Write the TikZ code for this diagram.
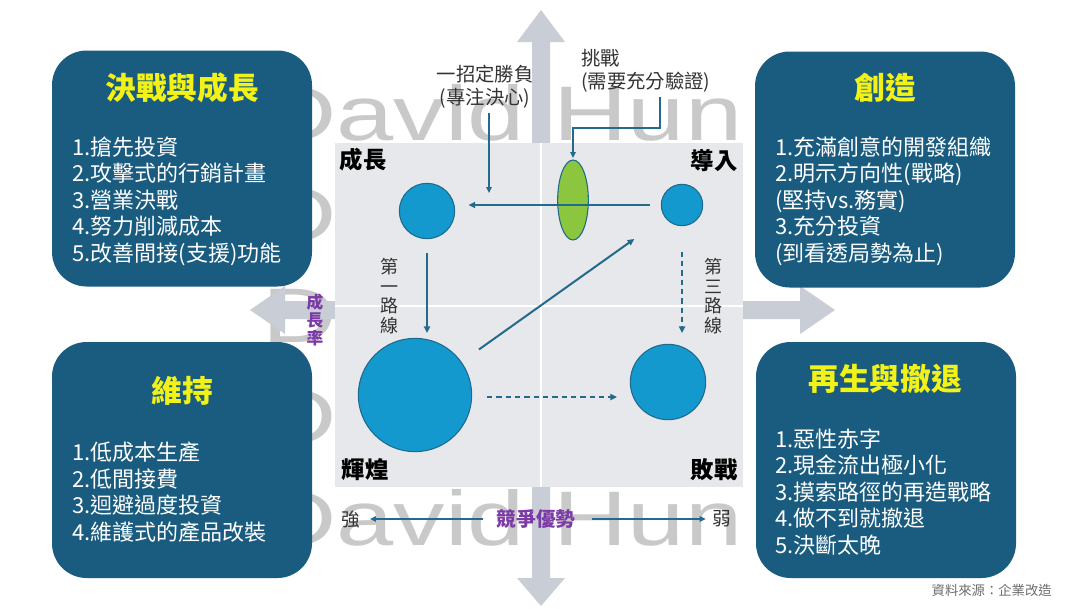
\documentclass[tikz,border=0pt]{standalone}
\usepackage{fontspec}
\setmainfont{Noto Sans CJK TC}
\newfontfamily\wmfont{Liberation Sans}
\usetikzlibrary{arrows.meta,shapes.geometric}
\definecolor{boxblue}{HTML}{195C7F}
\definecolor{titleyellow}{HTML}{F2F218}
\definecolor{panelgray}{HTML}{E7E8EB}
\definecolor{bigarrow}{HTML}{C9CDD5}
\definecolor{wmgray}{HTML}{C9C9C9}
\definecolor{circfill}{HTML}{1499CF}
\definecolor{circline}{HTML}{1E6A8C}
\definecolor{arrowcol}{HTML}{236A8C}
\definecolor{greenfill}{HTML}{8CC63E}
\definecolor{labgray}{HTML}{333333}
\definecolor{purp}{HTML}{7B3AA6}
\tikzset{
  box/.style={fill=boxblue, rounded corners=26pt, minimum width=195pt, minimum height=177pt, inner sep=0},
  boxtitle/.style={text=titleyellow, font=\fontsize{23}{26}\selectfont\bfseries, inner sep=0},
  items/.style={text=white, font=\fontsize{16.5}{19.9}\selectfont, align=left, anchor=west, inner sep=0},
  quad/.style={text=black, font=\fontsize{17.5}{20}\selectfont\bfseries, inner sep=0},
  bub/.style={circle, fill=circfill, draw=circline, line width=0.8pt, inner sep=0},
  arr/.style={draw=arrowcol, line width=1.5pt, -{Triangle[length=5pt,width=4.5pt]}},
  thinarr/.style={draw=arrowcol, line width=1.1pt, -{Triangle[length=4.5pt,width=4pt]}},
  dsh/.style={dash pattern=on 4pt off 3pt},
  lab/.style={text=labgray, font=\fontsize{14.5}{17.5}\selectfont, inner sep=0},
  vlab/.style={text=labgray, font=\fontsize{13.5}{14.6}\selectfont, align=center, inner sep=0},
  wm/.style={text=wmgray, font=\fontsize{58}{60}\wmfont, anchor=base west, inner sep=0},
}
\begin{document}
\begin{tikzpicture}[x=0.75pt,y=-0.75pt]
\useasboundingbox (0,0) rectangle (1080,608);
\fill[white] (0,0) rectangle (1080,608);
% watermark rows
\foreach \yy in {140,241,342,443,545} {
  \node[wm] at (262,\yy) {\scalebox{1.33}[1]{David Hun}};
}
% big gray cross arrows
\fill[bigarrow] (532,42) -- (517,42) -- (541,10) -- (565,42) -- (550,42) -- (550,578) -- (565,578) -- (541,606) -- (517,578) -- (532,578) -- cycle;
\fill[bigarrow] (285,301) -- (285,286) -- (250,310) -- (285,334) -- (285,319) -- (800,319) -- (800,334) -- (835,310) -- (800,286) -- (800,301) -- cycle;
% central panel
\fill[panelgray] (335,143) rectangle (743,487);
\draw[white, line width=1.2pt] (541,143) -- (541,487);
\draw[white, line width=1.2pt] (335,306) -- (743,306);
% boxes
\node[box] (tl) at (182,168.5) {};
\node[box] (tr) at (885,169.5) {};
\node[box] (bl) at (182,460) {};
\node[box] (br) at (886,460) {};
\node[boxtitle] (tlt) at (182,88) {決戰與成長};
\node[boxtitle] (trt) at (885,88) {創造};
\node[boxtitle] (blt) at (182,391) {維持};
\node[boxtitle] (brt) at (885,379) {再生與撤退};
\node[items] (tli) at (72,201) {1.搶先投資\\2.攻擊式的行銷計畫\\3.營業決戰\\4.努力削減成本\\5.改善間接(支援)功能};
\node[items] (tri) at (775,201) {1.充滿創意的開發組織\\2.明示方向性(戰略)\\(堅持vs.務實)\\3.充分投資\\(到看透局勢為止)};
\node[items] (bli) at (72,492) {1.低成本生產\\2.低間接費\\3.迴避過度投資\\4.維護式的產品改裝};
\node[items] (bri) at (775,492) {1.惡性赤字\\2.現金流出極小化\\3.摸索路徑的再造戰略\\4.做不到就撤退\\5.決斷太晚};
% quadrant labels
\node[quad] (qg) at (363,160) {成長};
\node[quad] (qi) at (714,161) {導入};
\node[quad] (qb) at (365,470) {輝煌};
\node[quad] (qd) at (714,470) {敗戰};
% bubbles
\node[bub, minimum size=41.5pt] (growth) at (427,211) {};
\node[bub, minimum size=31pt] (intro) at (682,205) {};
\node[bub, minimum size=85pt] (bright) at (415,395) {};
\node[bub, minimum size=56.5pt] (defeat) at (668,382) {};
\node[ellipse, fill=greenfill, draw=circline, line width=0.8pt, minimum width=23pt, minimum height=60pt, inner sep=0] (ell) at (573,200) {};
% top labels
\node[lab, align=center] (lab1) at (485,87) {一招定勝負\\(專注決心)};
\node[lab, align=left, anchor=west] (lab2) at (581,71) {挑戰\\(需要充分驗證)};
\coordinate (l1e) at (489,193);
\coordinate (c2) at (660,128);
\draw[thinarr] ([yshift=-3pt]lab1.south -| l1e) -- (l1e);
\draw[thinarr] ([yshift=-3pt]lab2.south -| c2) -- (c2) -| ([yshift=1pt]ell.north);
% main arrows
\draw[arr] ([xshift=-8pt]intro.west) -- ([xshift=10pt]intro.west -| growth.east);
\draw[arr] ([yshift=-10.5pt]growth.south) -- ([yshift=3.5pt]growth.south |- bright.north);
\draw[arr, shorten <=16pt, shorten >=28pt] (bright) -- (intro);
\draw[arr, dsh] ([yshift=-19pt]intro.south) -- ([yshift=8pt]intro.south |- defeat.north);
\draw[arr, dsh] ([xshift=11pt,yshift=-1.5pt]bright.east) -- ([xshift=-9.5pt,yshift=-1.5pt]bright.east -| defeat.west);
% vertical labels
\node[vlab] (r1) at (389,296) {第\\一\\路\\線};
\node[vlab] (r3) at (713,296) {第\\三\\路\\線};
\node[text=purp, font=\fontsize{12.5}{13.2}\selectfont\bfseries, align=center, inner sep=0] (rate) at (315,320) {成\\長\\率};
% competitive advantage axis
\node[lab, font=\fontsize{14}{16}\selectfont] (strong) at (351,519) {強};
\node[text=purp, font=\fontsize{14.8}{17}\selectfont\bfseries, inner sep=0] (cmp) at (536,519) {競爭優勢};
\node[lab, font=\fontsize{14}{16}\selectfont] (weak) at (722,519) {弱};
\draw[thinarr, shorten <=10pt, shorten >=7pt] (cmp.west) -- (strong.east);
\draw[thinarr, shorten <=12pt, shorten >=5pt] (cmp.east) -- (weak.west);
% source
\node[anchor=east, text=gray!85!black, font=\fontsize{10}{12}\selectfont, inner sep=0] (src) at (1052,590) {資料來源：企業改造};
\end{tikzpicture}
\end{document}
